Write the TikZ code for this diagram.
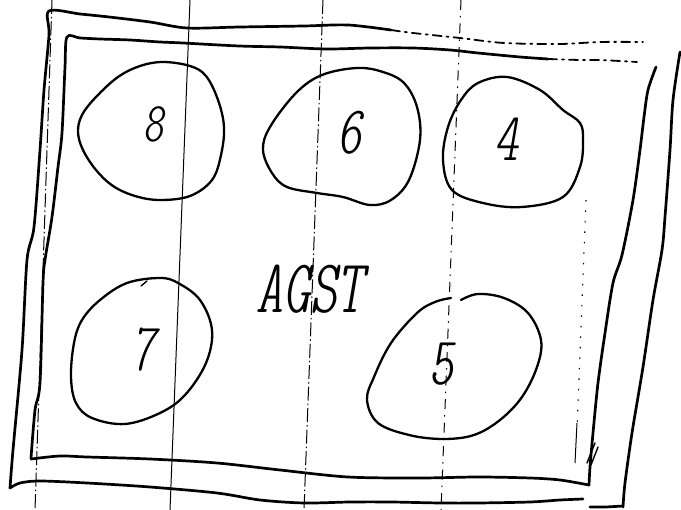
\documentclass[tikz,border=0pt]{standalone}
\usepackage{fontspec}
\newfontfamily\handfont{lmmonoltcond10-oblique.otf}
\begin{document}
\begin{tikzpicture}[x=1pt,y=-1pt,
  frame/.style={line width=2.7pt,line cap=round,line join=round},
  framedash/.style={line width=1.8pt,line cap=round,dash pattern=on 9pt off 5pt on 2pt off 5pt},
  blob/.style={line width=2.3pt,line cap=round,line join=round},
  guide/.style={line width=1pt},
  guidedashdot/.style={line width=1pt,dash pattern=on 14pt off 3pt on 1.5pt off 3pt},
  guidedash/.style={line width=1pt,dash pattern=on 10pt off 6pt on 1.5pt off 6pt},
  guidedot/.style={line width=1.1pt,dash pattern=on 1.5pt off 9pt},
  digit/.style={font=\handfont\fontsize{68}{68}\selectfont,inner sep=0pt},
]
\useasboundingbox (0,0) rectangle (681,510);
\fill[white] (0,0) rectangle (681,510);

% vertical guide lines
\draw[guide] (190,0) -- (170,510);
\draw[guidedashdot] (323,0) -- (304,510);
\draw[guidedash] (461,0) -- (441,510);
\draw[guidedashdot] (52,0) -- (35,510);
\draw[guidedot] (586,200) -- (577,430);
\draw[guide] (577,423) -- (575,463);

% outer frame
\draw[frame] plot[smooth,tension=0.5] coordinates {(391,30) (348,25) (304,26) (240,27) (187,28) (150,22) (109,17) (80,14) (49,11)
  (49,35) (44,90) (40,150) (34,227) (27,260) (22,350) (13,450) (10,488)};
\draw[frame] plot[smooth,tension=0.5] coordinates {(10,488) (20,483) (40,481) (87,483) (150,487) (217,493) (260,500) (304,503) (350,502) (391,502) (440,503) (478,503) (530,502) (560,500) (583,499)};
\draw[frame] plot[smooth,tension=0.5] coordinates {(590,507) (605,507) (623,506)};
\draw[frame] plot[smooth,tension=0.5] coordinates {(680,52) (673,100) (670,150) (665,217) (662,250) (653,300) (643,367) (632,433) (625,483) (623,507)};
\draw[framedash] plot[smooth,tension=0.5] coordinates {(391,30) (413,33) (460,38) (504,43) (560,44) (600,42) (643,42)};

% inner frame
\draw[frame] plot[smooth,tension=0.5] coordinates {(548,59) (520,57) (478,53) (450,50) (413,48) (370,48) (326,49) (280,47) (239,46) (183,43) (160,42) (130,40) (100,39) (80,38) (67,37)
  (65,67) (62,133) (58,167) (52,217) (45,260) (43,283) (40,383) (35,410) (31,458)};
\draw[frame] plot[smooth,tension=0.5] coordinates {(31,459) (60,456) (87,457) (150,459) (217,463) (280,470) (348,477) (420,478) (478,477) (530,478) (560,480) (589,485)};
\draw[frame] plot[smooth,tension=0.5] coordinates {(656,67) (648,90) (644,117) (640,150) (633,200) (622,255) (613,283) (605,333) (598,383) (593,433) (590,467) (589,485)};
\draw[framedash] plot[smooth,tension=0.5] coordinates {(548,59) (580,60) (600,60) (637,62)};
\draw[line width=1.4pt,line cap=round] (587,463) -- (595,443);
\draw[line width=1.4pt,line cap=round] (591,465) -- (598,447);

% blobs
\draw[blob] plot[smooth cycle,tension=0.6] coordinates {(163,62) (190,66) (206,76) (218,100) (224,127) (221,155) (212,180) (190,196) (160,200) (135,196) (113,186) (96,170) (83,150) (78,132) (82,115) (96,97) (118,77) (140,66)};
\draw[blob] plot[smooth cycle,tension=0.6] coordinates {(357,68) (383,72) (404,83) (417,107) (420,140) (409,180) (391,200) (370,205) (343,197) (317,193) (287,187) (272,173) (263,150) (270,127) (296,93) (322,75)};
\draw[blob] plot[smooth cycle,tension=0.6] coordinates {(507,77) (540,90) (563,110) (580,123) (583,140) (580,167) (563,197) (522,207) (483,203) (452,190) (443,160) (448,127) (461,100) (478,83)};
\draw[blob] plot[smooth cycle,tension=0.6] coordinates {(160,278) (178,283) (200,300) (212,330) (206,363) (185,395) (160,413) (125,424) (92,418) (76,403) (71,377) (74,343) (82,320) (100,300) (127,283)};
\draw[blob] plot[smooth,tension=0.6] coordinates {(461,300) (478,294) (504,298) (528,313) (541,340) (537,367) (522,397) (500,420) (474,435) (443,439) (409,435) (378,423) (367,400) (374,377) (391,343) (417,313) (435,302) (451,298)};
\draw[line width=1.4pt,line cap=round] (141,286) -- (147,281);

% labels
\node[digit,font=\handfont\fontsize{56}{56}\selectfont] (n8) at (153,124) {8};
\node[digit] (n6) at (349,133) {6};
\node[digit] (n4) at (506,139) {4};
\node[digit] (n7) at (143,350) {7};
\node[digit] (n5) at (441,364) {5};
\node[digit,font=\handfont\fontsize{76}{76}\selectfont] (agst) at (310,289) {AGST};
\end{tikzpicture}
\end{document}
